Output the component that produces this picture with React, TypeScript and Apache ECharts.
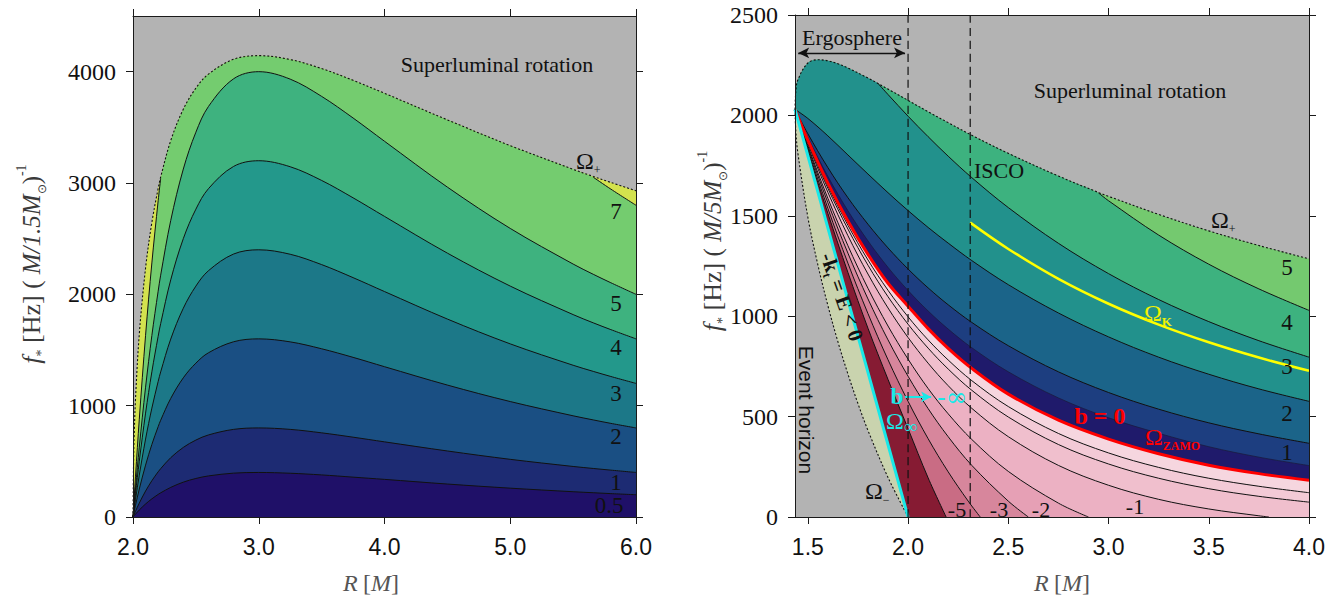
import React, { useEffect, useRef } from "react";
import * as echarts from "echarts";

// ---------------- Left panel (R from 2 to 6) ----------------
const leftR = [2.0, 2.005, 2.01, 2.02, 2.05, 2.1, 2.15, 2.2, 2.22, 2.3, 2.4, 2.5, 2.6, 2.8, 3.0, 3.25, 3.5, 3.75, 4.0, 4.5, 5.0, 5.5, 5.66, 5.8, 6.0];
const leftOmegaPlus = [0, 537, 756, 1061, 1641, 2237, 2646, 2951, 3053, 3381, 3663, 3852, 3978, 4111, 4144, 4109, 4028, 3923, 3806, 3567, 3336, 3123, 3059, 3005, 2930];
const leftB7 = [0, 94, 186, 367, 878, 1632, 2282, 2840, 3040, 3728, 4375, 4838, 5162, 5510, 5600, 5506, 5290, 5018, 4725, 4148, 3629, 3181, 3052, 2945, 2800];
const leftB5 = [0, 67, 133, 262, 627, 1166, 1630, 2028, 2172, 2663, 3125, 3456, 3687, 3936, 4000, 3933, 3778, 3584, 3375, 2963, 2592, 2272, 2180, 2104, 2000];
const leftB4 = [0, 54, 106, 210, 501, 933, 1304, 1623, 1737, 2130, 2500, 2765, 2949, 3149, 3200, 3146, 3023, 2867, 2700, 2370, 2074, 1818, 1744, 1683, 1600];
const leftB3 = [0, 40, 80, 157, 376, 700, 978, 1217, 1303, 1598, 1875, 2074, 2212, 2362, 2400, 2360, 2267, 2150, 2025, 1778, 1555, 1363, 1308, 1262, 1200];
const leftB2 = [0, 27, 53, 105, 251, 466, 652, 811, 869, 1065, 1250, 1382, 1475, 1574, 1600, 1573, 1511, 1434, 1350, 1185, 1037, 909, 872, 841, 800];
const leftB1 = [0, 13, 27, 52, 125, 233, 326, 406, 434, 533, 625, 691, 737, 787, 800, 787, 756, 717, 675, 593, 518, 454, 436, 421, 400];
const leftB05 = [0, 7, 13, 26, 63, 117, 163, 203, 217, 266, 313, 346, 369, 394, 400, 393, 378, 358, 338, 296, 259, 227, 218, 210, 200];
const leftXTicks = [2, 3, 4, 5, 6];
const leftYTicks = [0, 1000, 2000, 3000, 4000];

// ---------------- Right panel (R from horizon to 4) ----------------
const rightR = [1.436, 1.5, 1.6, 1.7, 1.8, 1.9, 2.0, 2.1, 2.2, 2.318, 2.5, 2.75, 3.0, 3.25, 3.5, 3.75, 4.0];
const rightZamo = [2030, 1877, 1663, 1474, 1308, 1164, 1050, 938, 840, 740, 612, 482, 388, 315, 258, 216, 183];
const rightB05 = [2030, 1891, 1696, 1525, 1375, 1243, 1128, 1026, 936, 843, 723, 593, 494, 417, 350, 298, 256];
const rightB1 = [2030, 1909, 1740, 1590, 1458, 1340, 1235, 1141, 1057, 969, 853, 723, 620, 537, 469, 414, 367];
const rightB2 = [2030, 1985, 1898, 1803, 1708, 1615, 1526, 1442, 1364, 1277, 1157, 1016, 897, 796, 711, 638, 576];
const rightBm025 = [2030, 1872, 1649, 1453, 1280, 1129, 997, 882, 782, 679, 550, 416, 319, 247, 193, 153, 121];
const rightBm05 = [2030, 1867, 1637, 1434, 1254, 1097, 960, 841, 737, 631, 498, 361, 264, 193, 141, 103, 74];
const rightB3R = [1.85, 1.9, 2.0, 2.1, 2.2, 2.318, 2.5, 2.75, 3.0, 3.25, 3.5, 3.75, 4.0];
const rightB3 = [2159, 2104, 1996, 1894, 1797, 1690, 1541, 1363, 1212, 1083, 973, 878, 796];
const rightB4R = [2.95, 3.0, 3.25, 3.5, 3.75, 4.0];
const rightB4 = [1614, 1575, 1404, 1259, 1136, 1029];
const rightBm1R = [1.436, 1.5, 1.6, 1.7, 1.8, 1.9, 2.0, 2.1, 2.2, 2.318, 2.5, 2.75, 3.0, 3.25, 3.5, 3.75, 3.8];
const rightBm1 = [2030, 1860, 1617, 1401, 1210, 1041, 894, 766, 654, 541, 400, 257, 158, 88, 40, 6, 0];
const rightBm2R = [1.436, 1.5, 1.6, 1.7, 1.8, 1.9, 2.0, 2.1, 2.2, 2.318, 2.5, 2.75, 2.9];
const rightBm2 = [2030, 1849, 1587, 1351, 1139, 951, 786, 640, 514, 386, 227, 69, 0];
const rightBm3R = [1.436, 1.5, 1.6, 1.7, 1.8, 1.9, 2.0, 2.1, 2.2, 2.318, 2.5, 2.6];
const rightBm3 = [2030, 1841, 1565, 1314, 1086, 882, 701, 540, 400, 257, 79, 0];
const rightBm5R = [1.436, 1.5, 1.6, 1.7, 1.8, 1.9, 2.0, 2.1, 2.2, 2.3, 2.36];
const rightBm5 = [2030, 1831, 1537, 1264, 1013, 783, 576, 390, 225, 79, 0];
const rightBm10R = [1.436, 1.5, 1.6, 1.7, 1.8, 1.9, 2.0, 2.1, 2.19];
const rightBm10 = [2030, 1822, 1512, 1218, 940, 685, 440, 195, 0];
const rightOmegaPlusR = [1.436, 1.44, 1.45, 1.5, 1.55, 1.6, 1.65, 1.7, 1.8, 1.85, 1.9, 2.0, 2.1, 2.2, 2.318, 2.5, 2.75, 2.95, 3.0, 3.25, 3.5, 3.75, 4.0];
const rightOmegaPlus = [2030, 2117, 2176, 2261, 2277, 2272, 2257, 2236, 2186, 2159, 2131, 2075, 2018, 1964, 1901, 1811, 1698, 1616, 1597, 1507, 1425, 1352, 1286];
const rightOmegaMinusR = [1.436, 1.44, 1.45, 1.5, 1.55, 1.6, 1.65, 1.7, 1.75, 1.8, 1.9, 2.0];
const rightOmegaMinus = [2030, 1923, 1815, 1494, 1256, 1053, 873, 712, 565, 431, 197, 0];
const rightOmegaInfR = [1.436, 1.6, 1.8, 2.0];
const rightOmegaInf = [2030, 1440, 720, 0];
const rightKeplerR = [2.31, 2.5, 2.75, 3.0, 3.25, 3.5, 3.75, 4.0];
const rightKepler = [1466, 1335, 1186, 1062, 958, 870, 794, 728];
const ergoR = 2.0;
const iscoR = 2.31;
const rightXTicks = [1.5, 2.0, 2.5, 3.0, 3.5, 4.0];
const rightYTicks = [0, 500, 1000, 1500, 2000, 2500];

const serif = '"Liberation Serif", "Times New Roman", serif';
const sans = '"Liberation Sans", Arial, sans-serif';
const axisColor = "#1a1a1a";
const SMOOTH = 0.35;

const zip = (xs: number[], ys: (number | null)[]) => xs.map((x, i) => [x, ys[i]]);

function fill(side: number, data: any[], color: string): any {
  const idx = side === 0 ? 0 : 2;
  return {
    type: "line", xAxisIndex: idx, yAxisIndex: idx, data, symbol: "none", showSymbol: false,
    smooth: SMOOTH, silent: true, z: 2,
    lineStyle: { width: 0, opacity: 0 },
    areaStyle: { color, opacity: 1, origin: "start" },
  };
}
function stroke(side: number, data: any[], color: string, width: number, type: any = "solid", z = 3, extra: any = {}): any {
  const idx = side === 0 ? 0 : 2;
  return {
    type: "line", xAxisIndex: idx, yAxisIndex: idx, data, symbol: "none", showSymbol: false,
    smooth: SMOOTH, silent: true, z, connectNulls: false,
    lineStyle: { color, width, type },
    ...extra,
  };
}
function xAxis(grid: number, position: string, min: number, max: number, ticks: number[], show: boolean): any {
  return {
    type: "value", gridIndex: grid, position, min, max, z: 10,
    splitLine: { show: false },
    axisLine: { show: true, onZero: false, lineStyle: { color: axisColor, width: 1 } },
    axisTick: { show: true, inside: false, length: 7, customValues: ticks, lineStyle: { color: axisColor, width: 1 } },
    axisLabel: { show, customValues: ticks, margin: 18, formatter: (v: number) => v.toFixed(1), fontFamily: sans, fontSize: 23, color: "#111" },
  };
}
function yAxis(grid: number, position: string, min: number, max: number, ticks: number[], show: boolean): any {
  return {
    type: "value", gridIndex: grid, position, min, max, z: 10,
    splitLine: { show: false },
    axisLine: { show: true, onZero: false, lineStyle: { color: axisColor, width: 1 } },
    axisTick: { show: true, inside: false, length: 7, customValues: ticks, lineStyle: { color: axisColor, width: 1 } },
    axisLabel: { show, customValues: ticks, margin: 17, formatter: (v: number) => String(v), fontFamily: serif, fontSize: 24, color: "#111" },
  };
}
function txt(x: number, y: number, text: string, o: any = {}): any {
  const align = o.align || "center";
  return {
    type: "text", x, y, z: 100, silent: true, rotation: o.rotation || 0,
    style: {
      text, fill: o.fill || "#111", fontFamily: o.fontFamily || serif, fontSize: o.fontSize || 22,
      fontWeight: o.fontWeight || "normal", fontStyle: o.fontStyle || "normal",
      align, verticalAlign: "middle", textAlign: align, textVerticalAlign: "middle",
      rich: o.rich,
    },
  };
}
function omegaRich(fill: string, subSize: number, subBold = false, mainSize = 24): any {
  return {
    a: { fontFamily: serif, fontSize: mainSize, fill, color: fill, lineHeight: 30 },
    s: { fontFamily: serif, fontSize: subSize, fill, color: fill, fontWeight: subBold ? "bold" : "normal", verticalAlign: "bottom", lineHeight: subSize + 2 },
  };
}

function buildOption(): any {
  const leftPlus = zip(leftR, leftOmegaPlus);
  const leftB7Fill = leftR.map((r, i) => [r, Math.min(leftB7[i], leftOmegaPlus[i])]);
  const leftB7Line = leftR.map((r, i) => [r, leftB7[i] <= leftOmegaPlus[i] ? leftB7[i] : null]);

  const rPlus = zip(rightOmegaPlusR, rightOmegaPlus);
  const b3Fill = [...rPlus.filter((p) => (p[0] as number) < rightB3R[0]), ...zip(rightB3R, rightB3)];
  const b4Fill = [...rPlus.filter((p) => (p[0] as number) < rightB4R[0]), ...zip(rightB4R, rightB4)];

  const series: any[] = [
    // left fills
    fill(0, leftPlus, "#d3e24e"),
    fill(0, leftB7Fill, "#74cc6f"),
    fill(0, zip(leftR, leftB5), "#3eb27f"),
    fill(0, zip(leftR, leftB4), "#23988b"),
    fill(0, zip(leftR, leftB3), "#1c7888"),
    fill(0, zip(leftR, leftB2), "#1a4f83"),
    fill(0, zip(leftR, leftB1), "#1d2b73"),
    fill(0, zip(leftR, leftB05), "#1f1068"),
    // left lines
    stroke(0, leftPlus, "#111", 1.1, [2, 2]),
    stroke(0, leftB7Line, "#111", 1),
    stroke(0, zip(leftR, leftB5), "#111", 1),
    stroke(0, zip(leftR, leftB4), "#111", 1),
    stroke(0, zip(leftR, leftB3), "#111", 1),
    stroke(0, zip(leftR, leftB2), "#111", 1),
    stroke(0, zip(leftR, leftB1), "#111", 1),
    stroke(0, zip(leftR, leftB05), "#111", 1),

    // right fills
    fill(1, rPlus, "#74c96f"),
    fill(1, b4Fill, "#3db27f"),
    fill(1, b3Fill, "#22918c"),
    fill(1, zip(rightR, rightB2), "#1b6489"),
    fill(1, zip(rightR, rightB1), "#1d3e80"),
    fill(1, zip(rightR, rightB05), "#1f1a6b"),
    fill(1, zip(rightR, rightZamo), "#f6d6df"),
    fill(1, zip(rightR, rightBm025), "#f3cad6"),
    fill(1, zip(rightR, rightBm05), "#f0bfcd"),
    fill(1, zip(rightBm1R, rightBm1), "#ecb1c3"),
    fill(1, zip(rightBm2R, rightBm2), "#e6a0b5"),
    fill(1, zip(rightBm3R, rightBm3), "#d7869c"),
    fill(1, zip(rightBm5R, rightBm5), "#c96c84"),
    fill(1, zip(rightBm10R, rightBm10), "#861b33"),
    fill(1, zip(rightOmegaInfR, rightOmegaInf), "#c9d3ae"),
    fill(1, zip(rightOmegaMinusR, rightOmegaMinus), "#b3b3b3"),
    // right lines
    stroke(1, zip(rightB4R, rightB4), "#111", 1),
    stroke(1, zip(rightB3R, rightB3), "#111", 1),
    stroke(1, zip(rightR, rightB2), "#111", 1),
    stroke(1, zip(rightR, rightB1), "#111", 1),
    stroke(1, zip(rightR, rightB05), "#1a1a40", 0.8),
    stroke(1, zip(rightR, rightBm025), "#111", 1),
    stroke(1, zip(rightR, rightBm05), "#111", 1),
    stroke(1, zip(rightBm1R, rightBm1), "#111", 1),
    stroke(1, zip(rightBm2R, rightBm2), "#111", 1),
    stroke(1, zip(rightBm3R, rightBm3), "#111", 1),
    stroke(1, zip(rightBm5R, rightBm5), "#111", 1),
    stroke(1, zip(rightBm10R, rightBm10), "#111", 1),
    stroke(1, rPlus, "#111", 1.1, [2, 2]),
    stroke(1, zip(rightOmegaMinusR, rightOmegaMinus), "#111", 1.1, [2, 2]),
    stroke(1, zip(rightR, rightZamo), "#ff0000", 3, "solid", 5),
    stroke(1, zip(rightOmegaInfR, rightOmegaInf), "#19e8e8", 3, "solid", 5, {
      markLine: {
        silent: true, symbol: ["none", "arrow"], symbolSize: [8, 10],
        label: { show: false },
        lineStyle: { color: "#19e8e8", width: 2, type: "solid" },
        data: [[{ coord: [1.985, 598] }, { coord: [2.115, 598] }]],
      },
    }),
    stroke(1, zip(rightKeplerR, rightKepler), "#ffff00", 2.5, "solid", 5),
    stroke(1, [[ergoR, 0], [ergoR, 2500]], "#111", 1.2, [8, 5], 6, {
      markLine: {
        silent: true, symbol: ["arrow", "arrow"], symbolSize: [8, 11],
        label: { show: false },
        lineStyle: { color: "#111", width: 1.3, type: "solid" },
        data: [[{ coord: [1.452, 2311] }, { coord: [1.985, 2311] }]],
      },
    }),
    stroke(1, [[iscoR, 0], [iscoR, 2500]], "#111", 1.2, [8, 5], 6),
  ];

  const titleRich = (color: string) => ({
    f: { fontFamily: serif, fontStyle: "italic", fontSize: 26, color, fill: color, lineHeight: 34 },
    s: { fontFamily: serif, fontSize: 14, color, fill: color, verticalAlign: "bottom", lineHeight: 20 },
    n: { fontFamily: serif, fontSize: 26, color, fill: color, lineHeight: 34 },
    m: { fontFamily: serif, fontSize: 25, color, fill: color, lineHeight: 34 },
    i: { fontFamily: serif, fontStyle: "italic", fontSize: 25, color, fill: color, lineHeight: 34 },
    o: { fontFamily: serif, fontSize: 12, color, fill: color, verticalAlign: "bottom", lineHeight: 22 },
    p: { fontFamily: serif, fontSize: 14, color, fill: color, verticalAlign: "top", lineHeight: 14 },
  });
  const xRich = {
    i: { fontFamily: serif, fontStyle: "italic", fontSize: 24, color: "#555", fill: "#555" },
    n: { fontFamily: serif, fontSize: 24, color: "#555", fill: "#555" },
  };

  const graphic: any[] = [
    // axis titles
    txt(31, 264, "{f|f}{s|*}{n| [Hz] }{m|( }{i|M/1.5M}{o|⊙}{m|)}{p|-1}", { rotation: Math.PI / 2, rich: titleRich("#3a3a3a") }),
    txt(712, 241, "{f|f}{s|*}{n| [Hz] }{m|( }{i|M/5M}{o|⊙}{m|)}{p|-1}", { rotation: Math.PI / 2, rich: titleRich("#3a3a3a") }),
    txt(371, 583, "{i|R} {n|[}{i|M}{n|]}", { rich: xRich }),
    txt(1062, 583, "{i|R} {n|[}{i|M}{n|]}", { rich: xRich }),
    // left panel annotations
    txt(497, 64, "Superluminal rotation", { fontSize: 22 }),
    txt(576, 161, "{a|Ω}{s|+}", { align: "left", rich: omegaRich("#111", 12) }),
    txt(616, 211, "7", { fontSize: 23 }),
    txt(616, 303, "5", { fontSize: 23 }),
    txt(616, 347, "4", { fontSize: 23 }),
    txt(616, 393, "3", { fontSize: 23 }),
    txt(616, 436, "2", { fontSize: 23 }),
    txt(616, 482, "1", { fontSize: 23 }),
    txt(609, 505, "0.5", { fontSize: 23 }),
    // right panel annotations
    txt(852, 37, "Ergosphere", { fontSize: 22 }),
    txt(1130, 90, "Superluminal rotation", { fontSize: 22 }),
    txt(974, 170, "ISCO", { fontSize: 22, align: "left" }),
    txt(1211, 220, "{a|Ω}{s|+}", { align: "left", rich: omegaRich("#111", 12) }),
    txt(1287, 267, "5", { fontSize: 23 }),
    txt(1287, 322, "4", { fontSize: 23 }),
    txt(1287, 366, "3", { fontSize: 23 }),
    txt(1287, 413, "2", { fontSize: 23 }),
    txt(1287, 452, "1", { fontSize: 23 }),
    txt(1144, 313, "{a|Ω}{s|K}", { align: "left", rich: omegaRich("#f2f200", 13, true) }),
    txt(1100, 416, "b = 0", { fontSize: 24, fontWeight: "bold", fill: "#ff0000" }),
    txt(1145, 437, "{a|Ω}{s|ZAMO}", { align: "left", rich: omegaRich("#ff0000", 12, true) }),
    txt(897, 396, "b", { fontSize: 23, fontWeight: "bold", fill: "#19e8e8" }),
    txt(937, 397, "-∞", { fontSize: 26, fill: "#19e8e8", align: "left", fontFamily: '"DejaVu Serif", serif' }),
    txt(886, 421, "{a|Ω}{s|∞}", { align: "left", rich: omegaRich("#19e8e8", 19) }),
    txt(806, 410, "Event horizon", { fontFamily: sans, fontSize: 21, rotation: -Math.PI / 2 }),
    txt(865, 491, "{a|Ω}{s|−}", { align: "left", rich: omegaRich("#111", 12) }),
    txt(842, 297, "{a|-k}{s|t}{a| = E < 0}", {
      rotation: -1.234,
      rich: {
        a: { fontFamily: serif, fontSize: 21, fontWeight: "bold", color: "#111", fill: "#111", lineHeight: 26 },
        s: { fontFamily: serif, fontSize: 12, fontWeight: "bold", color: "#111", fill: "#111", verticalAlign: "bottom", lineHeight: 14 },
      },
    }),
    txt(957, 509, "-5", { fontSize: 22 }),
    txt(999, 509, "-3", { fontSize: 22 }),
    txt(1041, 509, "-2", { fontSize: 22 }),
    txt(1135, 506, "-1", { fontSize: 22 }),
  ];

  return {
    animation: false,
    backgroundColor: "#ffffff",
    grid: [
      { left: 133, right: 706, top: 16, bottom: 78, show: true, backgroundColor: "#b3b3b3", borderWidth: 0 },
      { left: 795, right: 33, top: 15, bottom: 78, show: true, backgroundColor: "#b3b3b3", borderWidth: 0 },
    ],
    xAxis: [
      xAxis(0, "bottom", 2, 6, leftXTicks, true),
      xAxis(0, "top", 2, 6, leftXTicks, false),
      xAxis(1, "bottom", 1.436, 4, rightXTicks, true),
      xAxis(1, "top", 1.436, 4, rightXTicks, false),
    ],
    yAxis: [
      yAxis(0, "left", 0, 4500, leftYTicks, true),
      yAxis(0, "right", 0, 4500, leftYTicks, false),
      yAxis(1, "left", 0, 2500, rightYTicks, true),
      yAxis(1, "right", 0, 2500, rightYTicks, false),
    ],
    series,
    graphic,
  };
}

export default function App() {
  const ref = useRef<HTMLDivElement>(null);
  useEffect(() => {
    if (!ref.current) return;
    const chart = echarts.init(ref.current, null, { renderer: "svg" });
    chart.setOption(buildOption());
    return () => chart.dispose();
  }, []);
  return (
    <div
      ref={ref}
      style={{ position: "absolute", left: 0, top: 0, width: 1342, height: 595, background: "#fff" }}
    />
  );
}
